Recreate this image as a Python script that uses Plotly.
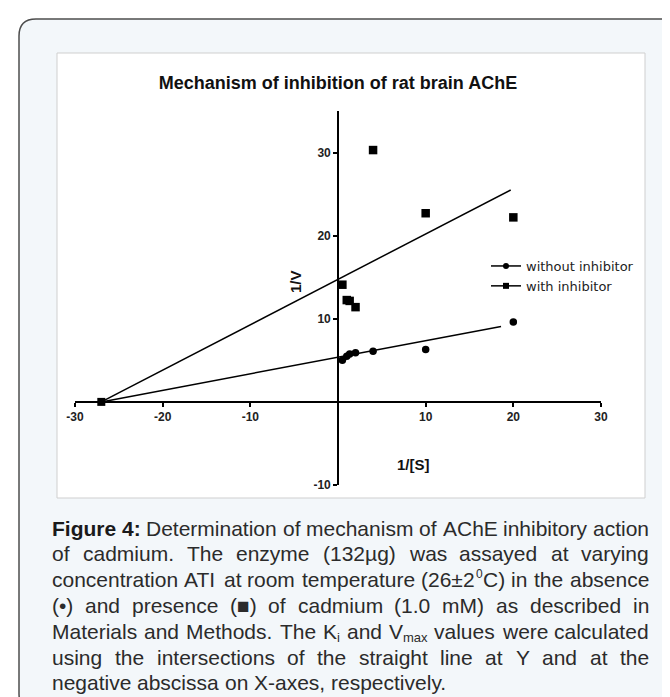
import re
import plotly.graph_objects as go

# ---------------- data ----------------
inv_s = [0.5, 1.0, 1.33, 2.0, 4.0, 10.0, 20.0]
inv_v_without = [5.0, 5.5, 5.75, 5.9, 6.1, 6.3, 9.6]
inv_v_with = [14.1, 12.25, 12.15, 11.4, 30.3, 22.7, 22.2]
intersect_x = [-27.0]
intersect_y = [0.0]
fit_without_x = [-27.0, 18.6]
fit_without_y = [0.0, 9.08]
fit_with_x = [-27.0, 19.7]
fit_with_y = [0.0, 25.5]
x_ticks = [-30, -20, -10, 10, 20, 30]
y_ticks = [-10, 10, 20, 30]
x_range = [-30, 30]
y_range = [-10, 35]
series_names = ["without inhibitor", "with inhibitor"]

title_text = "Mechanism of inhibition of rat brain AChE"
caption_lines = [
    "*Figure *4: Determination of mechanism of AChE inhibitory action",
    "of cadmium. The enzyme (132µg) was assayed at varying",
    "concentration ATI at room temperature (26±2^{0}C) in the absence",
    "(•) and presence (■) of cadmium (1.0 mM) as described in",
    "Materials and Methods. The K_{i} and V_{max} values were calculated",
    "using the intersections of the straight line at Y and at the",
    "negative abscissa on X-axes, respectively.",
]

# ---------------- layout geometry ----------------
W, H = 670, 697
ML, MR, MT, MB = 67, 77, 103, 220
PW = W - ML - MR
PH = H - MT - MB


def px2x(px):
    return (px - ML) / PW


def px2y(py):
    return (H - MB - py) / PH


FONT = "Liberation Sans"
REG = {'a': 556, 'b': 556, 'c': 500, 'd': 556, 'e': 556, 'f': 278, 'g': 556, 'h': 556,
       'i': 222, 'j': 222, 'k': 500, 'l': 222, 'm': 833, 'n': 556, 'o': 556, 'p': 556,
       'q': 556, 'r': 333, 's': 500, 't': 278, 'u': 556, 'v': 500, 'w': 722, 'x': 500,
       'y': 500, 'z': 500, 'A': 667, 'B': 667, 'C': 722, 'D': 722, 'E': 667, 'F': 611,
       'G': 778, 'H': 722, 'I': 278, 'J': 500, 'K': 667, 'L': 556, 'M': 833, 'N': 722,
       'O': 778, 'P': 667, 'Q': 778, 'R': 722, 'S': 667, 'T': 611, 'U': 722, 'V': 667,
       'W': 944, 'X': 667, 'Y': 667, 'Z': 611, ' ': 278, '.': 278, ',': 278, '(': 333,
       ')': 333, '-': 333, ':': 278, '±': 584, 'µ': 556, '•': 350, '■': 604}
BOLD = {'F': 611, 'i': 278, 'g': 611, 'u': 611, 'r': 389, 'e': 556, ':': 333, ' ': 278}

CAP_SIZE = 21
SUB_SIZE = 13


def seg_width(text, kind):
    if kind == 'b':
        return sum(BOLD.get(c, 556) for c in text) * CAP_SIZE / 1000
    size = SUB_SIZE if kind in ('sub', 'sup') else CAP_SIZE
    return sum(REG.get(c, 556) for c in text) * size / 1000


def parse_word(word):
    kind_base = 'r'
    if word.startswith('*'):
        kind_base = 'b'
        word = word[1:]
    segs = []
    for part in re.split(r'(_\{[^}]*\}|\^\{[^}]*\})', word):
        if not part:
            continue
        if part.startswith('_{'):
            segs.append((part[2:-1], 'sub'))
        elif part.startswith('^{'):
            segs.append((part[2:-1], 'sup'))
        else:
            segs.append((part, kind_base))
    return segs


annotations = []
CAP_LEFT, CAP_RIGHT = 44, 641
CAP_Y0, CAP_DY = 520, 25.8
for li, line in enumerate(caption_lines):
    words = [parse_word(w) for w in line.split(' ')]
    widths = [sum(seg_width(t, k) for t, k in w) for w in words]
    justify = li < len(caption_lines) - 1
    if justify and len(words) > 1:
        gap = (CAP_RIGHT - CAP_LEFT - sum(widths)) / (len(words) - 1)
    else:
        gap = REG[' '] * CAP_SIZE / 1000
    xcur = CAP_LEFT
    yc = CAP_Y0 + li * CAP_DY
    for w, ww in zip(words, widths):
        xs = xcur
        for t, k in w:
            if k == 'sub':
                size, dy, col = SUB_SIZE, 6, '#2b2b2b'
            elif k == 'sup':
                size, dy, col = SUB_SIZE - 1, -6, '#2b2b2b'
            elif k == 'b':
                size, dy, col = CAP_SIZE, 0, '#1a1a1a'
            else:
                size, dy, col = CAP_SIZE, 0, '#2b2b2b'
            txt = f"<b>{t}</b>" if k == 'b' else t
            annotations.append(dict(
                x=px2x(xs), y=px2y(yc + dy), xref='paper', yref='paper',
                xanchor='left', yanchor='middle', text=txt, showarrow=False,
                borderpad=0, borderwidth=0,
                font=dict(family=FONT, size=size, color=col)))
            xs += seg_width(t, k)
        xcur += ww + gap

# axis titles
annotations.append(dict(x=px2x(287), y=px2y(274), xref='paper', yref='paper',
                        text="<b>1/V</b>", textangle=-90, showarrow=False,
                        xanchor='center', yanchor='middle',
                        font=dict(family=FONT, size=15, color='#111')))
annotations.append(dict(x=px2x(405), y=px2y(456), xref='paper', yref='paper',
                        text="<b>1/[S]</b>", showarrow=False,
                        xanchor='center', yanchor='middle',
                        font=dict(family=FONT, size=15, color='#111')))


def rounded_path(x0, y0, x1, y1, r):
    rx, ry = r / PW, r / PH
    X0, X1 = px2x(x0), px2x(x1)
    Y0, Y1 = px2y(y0), px2y(y1)  # Y0 top (larger), Y1 bottom
    return (f"M{X0 + rx},{Y0} L{X1 - rx},{Y0} Q{X1},{Y0} {X1},{Y0 - ry} "
            f"L{X1},{Y1 + ry} Q{X1},{Y1} {X1 - rx},{Y1} L{X0 + rx},{Y1} "
            f"Q{X0},{Y1} {X0},{Y1 + ry} L{X0},{Y0 - ry} Q{X0},{Y0} {X0 + rx},{Y0} Z")


shapes = [
    dict(type='path', xref='paper', yref='paper', layer='below',
         path=rounded_path(11, 11, 676, 703, 17),
         fillcolor='#f3f7fa', line=dict(color='#4d4d4d', width=1.5)),
    dict(type='rect', xref='paper', yref='paper', layer='below',
         x0=px2x(49), x1=px2x(637), y0=px2y(45), y1=px2y(490),
         fillcolor='white', line=dict(color='#cfcfcf', width=1)),
]

fig = go.Figure()
fig.add_trace(go.Scatter(x=fit_without_x, y=fit_without_y, mode='lines',
                         line=dict(color='black', width=1.5), showlegend=False,
                         hoverinfo='skip'))
fig.add_trace(go.Scatter(x=fit_with_x, y=fit_with_y, mode='lines',
                         line=dict(color='black', width=1.5), showlegend=False,
                         hoverinfo='skip'))
fig.add_trace(go.Scatter(x=inv_s, y=inv_v_without, mode='markers',
                         marker=dict(symbol='circle', size=7.5, color='black'),
                         showlegend=False, cliponaxis=False))
fig.add_trace(go.Scatter(x=inv_s, y=inv_v_with, mode='markers',
                         marker=dict(symbol='square', size=8.5, color='black'),
                         showlegend=False, cliponaxis=False))
fig.add_trace(go.Scatter(x=intersect_x, y=intersect_y, mode='markers',
                         marker=dict(symbol='square', size=8, color='black'),
                         showlegend=False, cliponaxis=False))
fig.add_trace(go.Scatter(x=[None], y=[None], mode='lines+markers', name=series_names[0],
                         marker=dict(symbol='circle', size=6, color='black'),
                         line=dict(color='black', width=1.5)))
fig.add_trace(go.Scatter(x=[None], y=[None], mode='lines+markers', name=series_names[1],
                         marker=dict(symbol='square', size=6, color='black'),
                         line=dict(color='black', width=1.5)))

tickfont = dict(family=FONT, size=12, color='#222', weight='bold')
fig.update_layout(
    width=W, height=H,
    margin=dict(l=ML, r=MR, t=MT, b=MB),
    paper_bgcolor='white', plot_bgcolor='rgba(0,0,0,0)',
    title=dict(text=f"<b>{title_text}</b>", x=0.5, xref='paper', xanchor='center',
               y=1 - 75 / H, yref='container', yanchor='middle',
               font=dict(family=FONT, size=18, color='#111')),
    xaxis=dict(range=x_range, tickvals=x_ticks, ticktext=[str(v) for v in x_ticks],
               anchor='free',
               position=(0 - y_range[0]) / (y_range[1] - y_range[0]),
               showline=True, linecolor='black', linewidth=1.6,
               ticks='outside', ticklen=4, tickwidth=1.5, tickcolor='black',
               showgrid=False, zeroline=False, automargin=False, tickfont=tickfont),
    yaxis=dict(range=y_range, tickvals=y_ticks, ticktext=[str(v) for v in y_ticks],
               anchor='free',
               position=(0 - x_range[0]) / (x_range[1] - x_range[0]),
               showline=True, linecolor='black', linewidth=1.6,
               ticks='outside', ticklen=4, tickwidth=1.5, tickcolor='black',
               showgrid=False, zeroline=False, automargin=False, tickfont=tickfont),
    legend=dict(x=px2x(478), y=px2y(243), xanchor='left', yanchor='top',
                bgcolor='rgba(0,0,0,0)', itemwidth=30, tracegroupgap=0,
                font=dict(family='DejaVu Sans', size=13, color='#222')),
    shapes=shapes,
    annotations=annotations,
)

fig.write_html("out.html", config=dict(displayModeBar=False))
